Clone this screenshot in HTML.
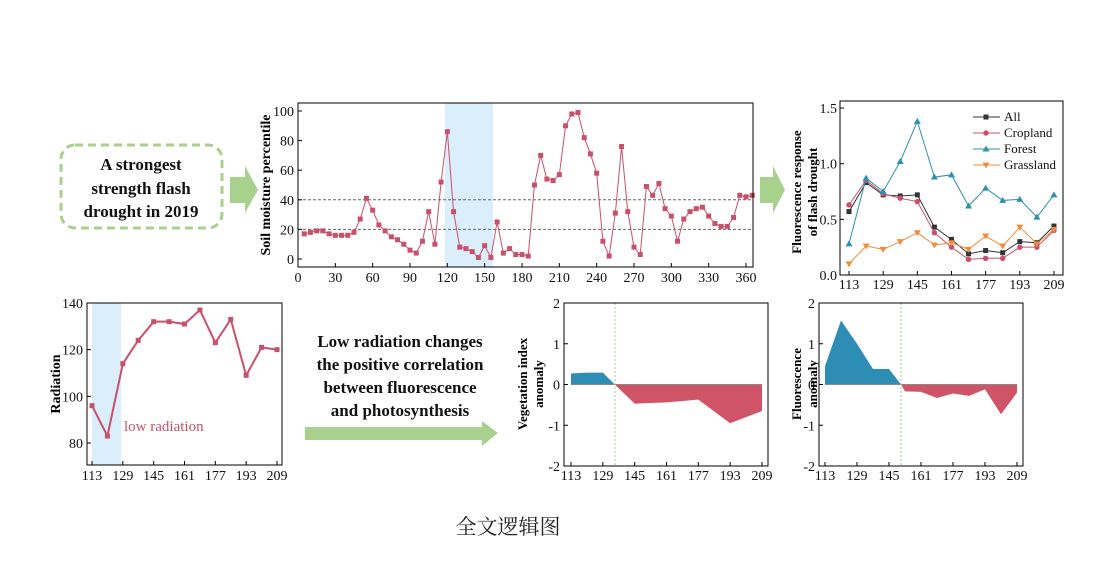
<!DOCTYPE html>
<html><head><meta charset="utf-8"><style>
html,body{margin:0;padding:0;background:#fff;}
svg{display:block;font-family:"Liberation Serif","Noto Serif CJK SC",serif;}
</style></head><body>
<svg id="s" width="1104" height="562" viewBox="0 0 1104 562" xmlns="http://www.w3.org/2000/svg">
<rect width="1104" height="562" fill="#fff"/>
<rect x="61" y="145" width="161" height="83" rx="14" fill="none" stroke="#a9d18e" stroke-width="3" stroke-dasharray="8,5"/>
<g font-weight="bold" font-size="17" text-anchor="middle" fill="#111">
<text x="141" y="170">A strongest</text>
<text x="141" y="194">strength flash</text>
<text x="141" y="217">drought in 2019</text>
</g>
<polygon points="230,177 245,177 245,166 258,190 245,213 245,203 230,203" fill="#a9d18e"/>
<polygon points="760,177 773,177 773,166 785,190 773,213 773,203 760,203" fill="#a9d18e"/>
<g font-weight="bold" font-size="17" text-anchor="middle" fill="#111">
<text x="400" y="347">Low radiation changes</text>
<text x="400" y="370">the positive correlation</text>
<text x="400" y="393">between fluorescence</text>
<text x="400" y="416">and photosynthesis</text>
</g>
<polygon points="305,427 482,427 482,421 498,433 482,446 482,440 305,440" fill="#a9d18e"/>
<text x="508" y="534" font-size="21" text-anchor="middle" fill="#222">全文逻辑图</text>
<g id="g"></g>
</svg>
<script>
const g=document.getElementById('g');let h='';
const R='#c9506a';
function ax(x0,x1,y0,y1){h+=`<rect x="${x0}" y="${y0}" width="${x1-x0}" height="${y1-y0}" fill="none" stroke="#000" stroke-width="1"/>`;}
function tx(x,y,t,anc,fs){h+=`<text x="${x}" y="${y}" font-size="${fs||14}" text-anchor="${anc||'middle'}" fill="#111">${t}</text>`;}
{const X=d=>298+d*448/360,Y=v=>259-v*1.48;
h+=`<rect x="445" y="103" width="48" height="164" fill="#dbeefc"/>`;
h+=`<line x1="298" x2="753" y1="${Y(40)}" y2="${Y(40)}" stroke="#666" stroke-dasharray="3,2"/><line x1="298" x2="753" y1="${Y(20)}" y2="${Y(20)}" stroke="#666" stroke-dasharray="3,2"/>`;
const v=[17,18,19,19,17,16,16,16,18,27,41,33,23,19,15,13,10,6,4,12,32,10,52,86,32,8,7,5,1,9,1,25,4,7,3,3,2,50,70,54,53,57,90,98,99,82,71,58,12,2,31,76,32,8,3,49,43,51,34,29,12,27,32,34,35,29,24,22,22,28,43,42,43];
h+=`<polyline fill="none" stroke="${R}" stroke-width="1" points="${v.map((a,i)=>X(5+5*i)+','+Y(a)).join(' ')}"/>`;
v.forEach((a,i)=>h+=`<rect x="${X(5+5*i)-2.5}" y="${Y(a)-2.5}" width="5" height="5" fill="${R}"/>`);
ax(298,753,103,267);
for(let d=0;d<=360;d+=30){h+=`<line x1="${X(d)}" x2="${X(d)}" y1="267" y2="263" stroke="#000"/>`;tx(X(d),282,d,'middle',14);}
for(let a=0;a<=100;a+=20){h+=`<line x1="298" x2="302" y1="${Y(a)}" y2="${Y(a)}" stroke="#000"/>`;tx(294,Y(a)+5,a,'end',14);}
h+=`<text transform="translate(270,185) rotate(-90)" font-size="14" font-weight="bold" text-anchor="middle">Soil moisture percentile</text>`;}
{const X=d=>849+(d-113)*2.135,Y=v=>275-v*111.3;const xs=[...Array(13)].map((_,i)=>113+8*i);
const S=[['All','#333',[.57,.83,.72,.71,.72,.43,.32,.19,.22,.20,.30,.29,.44],'s'],
['Cropland','#c9506a',[.63,.85,.73,.69,.66,.38,.25,.14,.15,.15,.25,.25,.40],'c'],
['Forest','#2f8fb0',[.28,.87,.75,1.02,1.38,.88,.90,.62,.78,.67,.68,.52,.72],'u'],
['Grassland','#f28c3a',[.10,.26,.23,.30,.38,.27,.29,.23,.35,.26,.43,.28,.41],'d']];
function mk(x,y,t,c){if(t=='s')return `<rect x="${x-2.5}" y="${y-2.5}" width="5" height="5" fill="${c}"/>`;if(t=='c')return `<circle cx="${x}" cy="${y}" r="2.7" fill="${c}"/>`;if(t=='u')return `<polygon points="${x},${y-3.5} ${x-3.5},${y+2.5} ${x+3.5},${y+2.5}" fill="${c}"/>`;return `<polygon points="${x},${y+3.5} ${x-3.5},${y-2.5} ${x+3.5},${y-2.5}" fill="${c}"/>`;}
S.forEach(([n,c,v,t],k)=>{h+=`<polyline fill="none" stroke="${c}" stroke-width="1" points="${v.map((a,i)=>X(xs[i])+','+Y(a)).join(' ')}"/>`;v.forEach((a,i)=>h+=mk(X(xs[i]),Y(a),t,c));
const ly=117+16*k;h+=`<line x1="973" x2="1000" y1="${ly}" y2="${ly}" stroke="${c}"/>`+mk(986,ly,t,c);tx(1004,ly+4,n,'start',13);});
ax(840,1063,101,275);
[113,129,145,161,177,193,209].forEach(d=>{h+=`<line x1="${X(d)}" x2="${X(d)}" y1="275" y2="271" stroke="#000"/>`;tx(X(d),289,d,'middle',14);});
[0,.5,1,1.5].forEach(a=>{h+=`<line x1="840" x2="844" y1="${Y(a)}" y2="${Y(a)}" stroke="#000"/>`;tx(837,Y(a)+5,a.toFixed(1),'end',14);});
h+=`<text transform="translate(801,192) rotate(-90)" font-size="13" font-weight="bold" text-anchor="middle">Fluorescence response</text><text transform="translate(817,192) rotate(-90)" font-size="13" font-weight="bold" text-anchor="middle">of flash drought</text>`;}
{const X=d=>92+(d-113)*185/96,Y=v=>443-(v-80)*2.333;const xs=[...Array(13)].map((_,i)=>113+8*i);
const v=[96,83,114,124,132,132,131,137,123,133,109,121,120];
h+=`<rect x="92" y="303" width="29" height="162" fill="#dbeefc"/>`;
h+=`<polyline fill="none" stroke="${R}" stroke-width="2" points="${v.map((a,i)=>X(xs[i])+','+Y(a)).join(' ')}"/>`;
v.forEach((a,i)=>h+=`<rect x="${X(xs[i])-2.5}" y="${Y(a)-2.5}" width="5" height="5" fill="${R}"/>`);
h+=`<text x="124" y="431" font-size="15" fill="${R}">low radiation</text>`;
ax(87,282,303,465);
[113,129,145,161,177,193,209].forEach(d=>{h+=`<line x1="${X(d)}" x2="${X(d)}" y1="465" y2="461" stroke="#000"/>`;tx(X(d),480,d,'middle',14);});
[80,100,120,140].forEach(a=>{h+=`<line x1="87" x2="91" y1="${Y(a)}" y2="${Y(a)}" stroke="#000"/>`;tx(83,Y(a)+5,a,'end',14);});
h+=`<text transform="translate(60,384) rotate(-90)" font-size="14" font-weight="bold" text-anchor="middle">Radiation</text>`;}
function anom(x0,x1,x113,x209,vl,blue,red,l1,l2,lx){const X=d=>x113+(d-113)*(x209-x113)/96,Y=v=>384.5-v*40.75;
const pp=a=>a.map(([d,v])=>X(d)+','+Y(v)).join(' ');
h+=`<polygon points="${pp(blue)}" fill="#2e8db5"/><polygon points="${pp(red)}" fill="#d05468"/>`;
h+=`<line x1="${X(113)}" x2="${X(209)}" y1="${Y(0)}" y2="${Y(0)}" stroke="#888"/>`;
h+=`<line x1="${vl}" x2="${vl}" y1="303" y2="466" stroke="#8fd08f" stroke-dasharray="2,2"/>`;
ax(x0,x1,303,466);
[113,129,145,161,177,193,209].forEach(d=>{h+=`<line x1="${X(d)}" x2="${X(d)}" y1="466" y2="462" stroke="#000"/>`;tx(X(d),480,d,'middle',14);});
[-2,-1,0,1,2].forEach(a=>{h+=`<line x1="${x0}" x2="${x0+4}" y1="${Y(a)}" y2="${Y(a)}" stroke="#000"/>`;tx(x0-4,Y(a)+5,a,'end',14);});
h+=`<text transform="translate(${lx},384) rotate(-90)" font-size="13" font-weight="bold" text-anchor="middle">${l1}</text><text transform="translate(${lx+16},384) rotate(-90)" font-size="13" font-weight="bold" text-anchor="middle">${l2}</text>`;}
anom(564,768,571,762,615,[[113,0],[113,.27],[121,.29],[129,.29],[135,0]],[[135,0],[145,-.47],[161,-.44],[177,-.37],[193,-.95],[209,-.65],[209,0]],'Vegetation index','anomaly',527);
anom(819,1023,825,1017,901,[[113,0],[113,.45],[121,1.57],[129,1.0],[137,.38],[145,.38],[151,0]],[[151,0],[153,-.17],[161,-.18],[169,-.33],[177,-.22],[185,-.28],[193,-.12],[201,-.73],[209,-.2],[209,0]],'Fluorescence','anomaly',801);
g.innerHTML=h;
</script>
</body></html>
